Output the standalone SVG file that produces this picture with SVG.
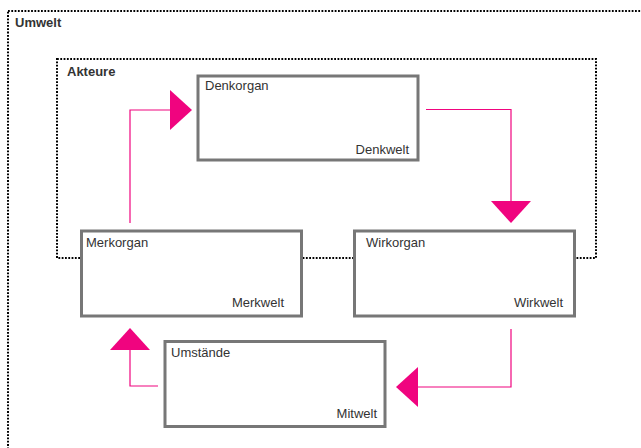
<svg xmlns="http://www.w3.org/2000/svg" width="641" height="448" viewBox="0 0 641 448">
<style>
.frame{fill:none;stroke:#000;stroke-width:2;stroke-dasharray:1.8 1.5}
.box{fill:#fff;stroke:#777;stroke-width:3}
.t{font-family:"Liberation Sans",Arial,sans-serif;font-size:13px;fill:#333}
.b{font-weight:bold}
.e{text-anchor:end}
.c{fill:none;stroke:#f0047f;stroke-width:1.2}
.h{fill:#f0047f}
</style>
<rect width="641" height="448" fill="#fff"/>
<g id="umwelt">
<rect class="frame" x="8" y="11" width="660" height="460"/>
<text class="t b" x="15" y="27">Umwelt</text>
</g>
<g id="akteure">
<rect class="frame" x="57" y="59" width="539" height="199"/>
<text class="t b" x="67" y="76">Akteure</text>
</g>
<g id="connectors">
<polyline class="c" points="130,223 130,110 172,110"/>
<polygon class="h" points="170,90 192,110 170,130"/>
<polyline class="c" points="426,109.5 511,109.5 511,203"/>
<polygon class="h" points="491,201 531,201 511,223"/>
<polyline class="c" points="511,329 511,387 416,387"/>
<polygon class="h" points="418,367 418,407 396,387"/>
<polyline class="c" points="158,386 130,386 130,348"/>
<polygon class="h" points="110,350 150,350 130,328"/>
</g>
<g id="denkorgan">
<rect class="box" x="198" y="76" width="220" height="84"/>
<text class="t" x="205" y="90">Denkorgan</text>
<text class="t e" x="409" y="154">Denkwelt</text>
</g>
<g id="merkorgan">
<rect class="box" x="81.5" y="231" width="220" height="85"/>
<text class="t" x="86" y="247">Merkorgan</text>
<text class="t e" x="284" y="307">Merkwelt</text>
</g>
<g id="wirkorgan">
<rect class="box" x="354.5" y="231" width="220" height="85"/>
<text class="t" x="366" y="247">Wirkorgan</text>
<text class="t e" x="563" y="307">Wirkwelt</text>
</g>
<g id="umstaende">
<rect class="box" x="165" y="341.5" width="220" height="85"/>
<text class="t" x="171" y="357">Umstände</text>
<text class="t e" x="377" y="418">Mitwelt</text>
</g>
</svg>
